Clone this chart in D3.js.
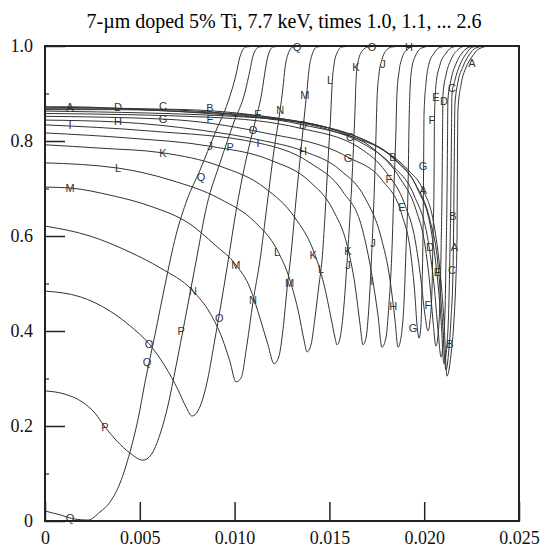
<!DOCTYPE html>
<html>
<head>
<meta charset="utf-8">
<script src="https://cdn.jsdelivr.net/npm/d3@7"></script>
<style>
  body { margin: 0; background: #fff; }
</style>
</head>
<body>
<div id="chart"></div>
<script>
// curves, [x, y], one per multiplier (A = 1.0 ... Q = 2.6)
var curveA = [[0,0.872],[0.00132,0.872],[0.00554,0.865],[0.01123,0.851],[0.01503,0.827],[0.01767,0.785],[0.01915,0.739],[0.01994,0.697],[0.02052,0.623],[0.02083,0.528],[0.02104,0.423],[0.0212,0.305],[0.02141,0.349],[0.02157,0.423],[0.02167,0.507],[0.02173,0.592],[0.02175,0.739],[0.02178,0.865],[0.02194,0.918],[0.0222,0.954],[0.02252,0.977],[0.02289,0.994],[0.02347,1.0],[0.025,1.0]];
var curveB = [[0,0.871],[0.00385,0.869],[0.0087,0.861],[0.01345,0.84],[0.01661,0.806],[0.01835,0.766],[0.01957,0.707],[0.0203,0.634],[0.02073,0.539],[0.02094,0.434],[0.02115,0.318],[0.0213,0.36],[0.02141,0.423],[0.02152,0.528],[0.02156,0.644],[0.02159,0.781],[0.02162,0.876],[0.02178,0.924],[0.02204,0.956],[0.02236,0.981],[0.02273,0.996],[0.02326,1.0],[0.025,1.0]];
var curveC = [[0,0.868],[0.00633,0.867],[0.01134,0.853],[0.01609,0.811],[0.01846,0.76],[0.01967,0.697],[0.02036,0.613],[0.02068,0.518],[0.02089,0.423],[0.02104,0.331],[0.0212,0.371],[0.0213,0.455],[0.02136,0.571],[0.02141,0.697],[0.02144,0.823],[0.02146,0.897],[0.02162,0.928],[0.02188,0.96],[0.0222,0.983],[0.02257,0.998],[0.02305,1.0],[0.025,1.0]];
var curveD = [[0,0.866],[0.00385,0.866],[0.00818,0.859],[0.01361,0.834],[0.01661,0.798],[0.0183,0.749],[0.01946,0.686],[0.0202,0.591],[0.02052,0.497],[0.02073,0.402],[0.02089,0.345],[0.02099,0.371],[0.0211,0.444],[0.02115,0.549],[0.0212,0.676],[0.02123,0.802],[0.02125,0.886],[0.02141,0.928],[0.02167,0.962],[0.02199,0.985],[0.02241,0.998],[0.02283,1.0],[0.025,1.0]];
var curveE = [[0,0.863],[0.01081,0.85],[0.01503,0.823],[0.0174,0.781],[0.01872,0.722],[0.01957,0.655],[0.02004,0.581],[0.0203,0.497],[0.02046,0.423],[0.02062,0.368],[0.02073,0.392],[0.02083,0.465],[0.02089,0.571],[0.02094,0.697],[0.02097,0.823],[0.02099,0.897],[0.02115,0.939],[0.02141,0.971],[0.02177,0.992],[0.02219,1.0],[0.025,1.0]];
var curveF = [[0,0.858],[0.0087,0.85],[0.01345,0.827],[0.01661,0.785],[0.01798,0.735],[0.01899,0.665],[0.01952,0.592],[0.01983,0.507],[0.02004,0.434],[0.0202,0.4],[0.0203,0.419],[0.02041,0.486],[0.02046,0.592],[0.02052,0.718],[0.02054,0.844],[0.02062,0.918],[0.02083,0.96],[0.02115,0.985],[0.02152,0.998],[0.02199,1.0],[0.025,1.0]];
var curveG = [[0,0.852],[0.00633,0.846],[0.01134,0.819],[0.01598,0.766],[0.01777,0.718],[0.01883,0.644],[0.0193,0.56],[0.01951,0.476],[0.01962,0.413],[0.01973,0.385],[0.01983,0.413],[0.01988,0.486],[0.01994,0.613],[0.01997,0.749],[0.01999,0.855],[0.0201,0.924],[0.02025,0.962],[0.02052,0.985],[0.02089,0.998],[0.02136,1.0],[0.025,1.0]];
var curveH = [[0,0.844],[0.00385,0.84],[0.00818,0.823],[0.01134,0.802],[0.01361,0.779],[0.01556,0.739],[0.01688,0.68],[0.01772,0.598],[0.0182,0.507],[0.01846,0.423],[0.01862,0.366],[0.01878,0.387],[0.01894,0.465],[0.01904,0.57],[0.01915,0.707],[0.0192,0.834],[0.01925,0.907],[0.01935,0.954],[0.01956,0.981],[0.01988,0.996],[0.0204,1.0],[0.025,1.0]];
var curveI = [[0,0.834],[0.00554,0.821],[0.01123,0.796],[0.01398,0.754],[0.01572,0.693],[0.01672,0.617],[0.01724,0.518],[0.01756,0.434],[0.01777,0.366],[0.01798,0.385],[0.01814,0.455],[0.0183,0.571],[0.0184,0.697],[0.01851,0.823],[0.01856,0.897],[0.01867,0.945],[0.01883,0.975],[0.01909,0.992],[0.01951,1.0],[0.025,1.0]];
var curveJ = [[0,0.817],[0.00448,0.806],[0.0087,0.789],[0.01187,0.76],[0.01398,0.714],[0.01519,0.655],[0.01593,0.581],[0.01635,0.497],[0.01662,0.413],[0.01677,0.371],[0.01693,0.385],[0.01709,0.455],[0.01724,0.571],[0.01735,0.676],[0.01745,0.802],[0.01751,0.886],[0.01761,0.939],[0.01777,0.971],[0.01798,0.99],[0.0183,0.998],[0.01899,1.0],[0.025,1.0]];
var curveK = [[0,0.792],[0.0029,0.785],[0.00622,0.775],[0.00923,0.747],[0.0116,0.701],[0.01319,0.638],[0.01414,0.571],[0.01472,0.497],[0.01509,0.427],[0.0153,0.385],[0.0154,0.371],[0.01556,0.385],[0.01577,0.455],[0.01593,0.545],[0.01609,0.644],[0.01624,0.76],[0.01635,0.865],[0.0164,0.924],[0.01651,0.966],[0.01672,0.989],[0.01704,0.998],[0.01767,1.0],[0.025,1.0]];
var curveL = [[0,0.754],[0.00385,0.743],[0.0066,0.718],[0.00923,0.678],[0.01108,0.629],[0.01224,0.571],[0.01292,0.507],[0.0134,0.434],[0.01366,0.381],[0.01382,0.356],[0.01403,0.371],[0.01424,0.428],[0.01445,0.497],[0.01461,0.549],[0.01477,0.644],[0.01493,0.76],[0.01508,0.865],[0.01514,0.918],[0.01524,0.96],[0.0154,0.985],[0.01566,0.998],[0.01635,1.0],[0.025,1.0]];
var curveM = [[0,0.703],[0.00132,0.701],[0.00343,0.686],[0.00554,0.663],[0.00765,0.625],[0.00897,0.581],[0.01007,0.539],[0.01081,0.491],[0.01134,0.427],[0.01176,0.371],[0.01208,0.331],[0.01234,0.347],[0.01255,0.402],[0.01276,0.486],[0.01297,0.56],[0.01324,0.676],[0.0135,0.781],[0.01371,0.865],[0.01382,0.907],[0.01392,0.949],[0.01408,0.981],[0.01435,0.998],[0.01503,1.0],[0.025,1.0]];
var curveN = [[0,0.621],[0.00237,0.6],[0.00448,0.566],[0.00607,0.533],[0.00781,0.484],[0.0087,0.438],[0.00934,0.385],[0.00976,0.335],[0.01007,0.293],[0.01034,0.301],[0.01065,0.371],[0.01097,0.461],[0.01134,0.549],[0.01171,0.665],[0.01208,0.781],[0.0124,0.865],[0.01255,0.912],[0.01266,0.954],[0.01282,0.983],[0.01308,0.998],[0.01371,1.0],[0.025,1.0]];
var curveO = [[0,0.484],[0.00185,0.472],[0.00343,0.442],[0.00448,0.411],[0.00549,0.373],[0.00633,0.326],[0.00702,0.276],[0.00744,0.24],[0.00775,0.221],[0.00807,0.232],[0.00854,0.291],[0.00891,0.371],[0.00923,0.444],[0.00965,0.545],[0.01007,0.651],[0.0106,0.76],[0.01108,0.84],[0.01144,0.903],[0.0116,0.945],[0.01176,0.979],[0.01203,0.998],[0.01266,1.0],[0.025,1.0]];
var curveP = [[0,0.274],[0.00105,0.267],[0.00195,0.251],[0.00264,0.227],[0.00316,0.198],[0.0038,0.168],[0.00448,0.143],[0.00517,0.128],[0.00559,0.139],[0.00607,0.183],[0.00649,0.244],[0.00691,0.326],[0.00738,0.423],[0.00796,0.545],[0.00854,0.665],[0.00923,0.754],[0.00997,0.84],[0.01055,0.903],[0.01081,0.949],[0.01097,0.979],[0.01129,0.998],[0.01187,1.0],[0.025,1.0]];
var curveQ = [[0,0.021],[0.00079,0.013],[0.00158,0.004],[0.00227,0.002],[0.0029,0.019],[0.00343,0.04],[0.00396,0.08],[0.00448,0.145],[0.0049,0.213],[0.00527,0.291],[0.0058,0.392],[0.00633,0.497],[0.00691,0.602],[0.00749,0.676],[0.00818,0.739],[0.00897,0.817],[0.00965,0.882],[0.01007,0.939],[0.01028,0.977],[0.0106,0.998],[0.01134,1.0],[0.025,1.0]];

var letters = ["A","B","C","D","E","F","G","H","I","J","K","L","M","N","O","P","Q"];
var curves = [curveA, curveB, curveC, curveD, curveE, curveF, curveG, curveH, curveI,
              curveJ, curveK, curveL, curveM, curveN, curveO, curveP, curveQ];

// letter marks the plotting program put along the curves: [letter, x, y]
var labels = [
  ["A",0.00132,0.872],["I",0.00132,0.834],["D",0.00385,0.872],["H",0.00385,0.842],
  ["C",0.00622,0.873],["G",0.00622,0.847],["B",0.0087,0.869],["F",0.0087,0.846],
  ["E",0.01123,0.857],["O",0.01097,0.823],["I",0.01123,0.796],["N",0.0124,0.865],
  ["D",0.01361,0.834],["H",0.01361,0.779],["M",0.01371,0.897],["L",0.01503,0.928],
  ["K",0.0164,0.956],["J",0.01783,0.962],["C",0.01609,0.808],["G",0.01598,0.764],
  ["K",0.00622,0.775],["J",0.0087,0.789],["P",0.00976,0.787],["L",0.00385,0.743],
  ["M",0.00132,0.701],["Q",0.00823,0.724],["M",0.01007,0.539],["N",0.00781,0.484],
  ["L",0.01224,0.567],["K",0.01414,0.56],["K",0.01598,0.569],["J",0.01598,0.538],
  ["J",0.0173,0.585],["L",0.01456,0.53],["M",0.0129,0.5],["N",0.01097,0.465],
  ["O",0.00919,0.428],["O",0.00549,0.373],["Q",0.00538,0.335],["P",0.00718,0.4],
  ["P",0.00316,0.198],["Q",0.00132,0.006],["I",0.01724,0.505],["H",0.01836,0.452],
  ["G",0.01941,0.406],["F",0.0202,0.455],["F",0.01814,0.72],["E",0.01883,0.66],
  ["G",0.01994,0.747],["F",0.0204,0.845],["E",0.02062,0.893],["D",0.02104,0.884],
  ["C",0.02146,0.911],["A",0.02252,0.965],["B",0.02152,0.642],["A",0.0216,0.577],
  ["D",0.0203,0.576],["C",0.02146,0.528],["E",0.0207,0.525],["B",0.02136,0.372],
  ["A",0.01994,0.697],["B",0.01835,0.766],["Q",0.01329,0.998],["O",0.01725,0.998],
  ["H",0.0192,0.998]
];

var xTicks = [0, 0.005, 0.010, 0.015, 0.020, 0.025];
var yTicks = [0, 0.2, 0.4, 0.6, 0.8, 1.0];
var yMinor = [0.1, 0.3, 0.5, 0.7, 0.9];

var margin = {top: 46, right: 24, bottom: 28, left: 45},
    width = 543 - margin.left - margin.right,
    height = 549 - margin.top - margin.bottom;

var svg = d3.select("#chart")
  .append("svg")
  .attr("width", 543)
  .attr("height", 549)
  .append("g")
  .attr("transform", "translate(" + margin.left + "," + margin.top + ")");

var x = d3.scaleLinear().domain([0, 0.025]).range([0, width]);
var y = d3.scaleLinear().domain([0, 1]).range([height, 0]);

svg.append("text")
  .attr("x", width / 2 + 2)
  .attr("y", -18)
  .attr("text-anchor", "middle")
  .style("font-family", "Liberation Serif, serif")
  .style("font-size", "20px")
  .text("7-\u00b5m doped 5% Ti, 7.7 keV, times 1.0, 1.1, ... 2.6");

svg.append("clipPath").attr("id", "clip")
  .append("rect").attr("width", width).attr("height", height);

var line = d3.line()
  .x(function(d) { return x(d[0]); })
  .y(function(d) { return y(d[1]); })
  .curve(d3.curveMonotoneX);

svg.append("g").attr("clip-path", "url(#clip)")
  .selectAll("path")
  .data(curves)
  .enter()
  .append("path")
    .attr("d", line)
    .attr("fill", "none")
    .attr("stroke", "#333")
    .attr("stroke-width", 1);

svg.selectAll("text.lab")
  .data(labels)
  .enter()
  .append("text")
    .attr("class", "lab")
    .attr("x", function(d) { return x(d[1]); })
    .attr("y", function(d) { return y(d[2]); })
    .attr("dy", "0.36em")
    .attr("text-anchor", "middle")
    .style("font-family", "Liberation Sans, sans-serif")
    .style("font-size", "11px")
    .style("fill", "#333")
    .text(function(d) { return d[0]; });

// axes, ticks pointing inward
var xAxis = svg.append("g")
  .attr("transform", "translate(0," + height + ")")
  .call(d3.axisBottom(x).tickValues(xTicks).tickSize(-19).tickPadding(10)
    .tickFormat(function(d) { return d === 0 ? "0" : d.toFixed(3); }));

var yAxis = svg.append("g")
  .call(d3.axisLeft(y).tickValues(yTicks).tickSize(-20).tickPadding(12)
    .tickFormat(function(d) { return d === 0 ? "0" : d.toFixed(1); }));

svg.append("g")
  .call(d3.axisLeft(y).tickValues(yMinor).tickSize(-4).tickFormat(""))
  .select(".domain").remove();

[xAxis, yAxis].forEach(function(a) {
  a.select(".domain").remove();
  a.selectAll("text")
    .style("font-family", "Liberation Serif, serif")
    .style("font-size", "18px")
    .style("fill", "#111");
  a.selectAll("line").attr("stroke", "#222").attr("stroke-width", 1.5);
});

svg.append("rect")
  .attr("width", width)
  .attr("height", height)
  .attr("fill", "none")
  .attr("stroke", "#222")
  .attr("stroke-width", 2);
</script>
</body>
</html>
